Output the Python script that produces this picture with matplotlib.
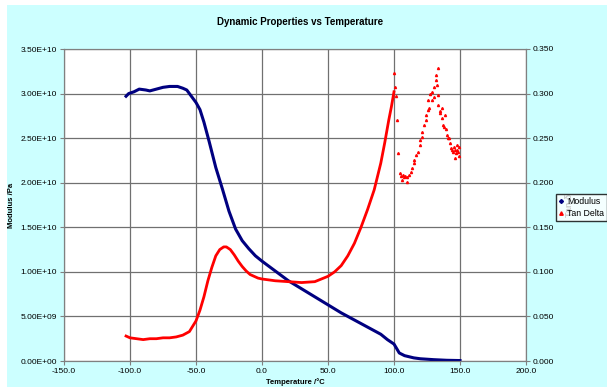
import matplotlib
matplotlib.use('Agg')
import matplotlib.pyplot as plt
from matplotlib.ticker import FuncFormatter, MultipleLocator
from matplotlib.lines import Line2D
from matplotlib.patches import Rectangle

plt.rcParams['font.family'] = ['Liberation Sans', 'DejaVu Sans']

# modulus (Pa), dense part
mod_T = [-103, -101, -97, -93, -88, -85, -80, -75, -70, -64, -60, -57, -54, -50, -47, -44,
         -40, -35, -30, -25, -20, -15, -10, -5, 0, 10, 20, 30, 40, 50, 60, 70, 80, 90,
         95, 100, 102, 104, 108, 115, 120, 130, 140, 150]
mod_E = [2.97, 3.00, 3.02, 3.05, 3.04, 3.03, 3.05, 3.07, 3.08, 3.08, 3.06, 3.04, 2.98, 2.90,
         2.82, 2.68, 2.46, 2.17, 1.93, 1.68, 1.48, 1.35, 1.26, 1.18, 1.12, 1.01, 0.90, 0.81,
         0.72, 0.63, 0.54, 0.46, 0.38, 0.30, 0.24, 0.19, 0.14, 0.09, 0.06, 0.035, 0.025,
         0.015, 0.008, 0.005]
mod_E = [v * 1e10 for v in mod_E]

# tan delta, smooth part
tan_T = [-103, -100, -95, -90, -85, -80, -75, -70, -65, -60, -55, -50, -47, -44, -41, -38,
         -35, -32, -29, -27, -24, -21, -18, -15, -12, -9, -6, -3, 0, 5, 10, 20, 30, 40, 45,
         50, 55, 60, 65, 70, 75, 80, 85, 90, 93, 96, 98, 100]
tan_d = [0.028, 0.026, 0.025, 0.024, 0.025, 0.025, 0.026, 0.026, 0.027, 0.029, 0.033, 0.045,
         0.057, 0.072, 0.090, 0.105, 0.118, 0.125, 0.128, 0.128, 0.125, 0.119, 0.112, 0.106,
         0.101, 0.097, 0.095, 0.093, 0.092, 0.091, 0.090, 0.089, 0.088, 0.089, 0.092, 0.095,
         0.100, 0.107, 0.118, 0.132, 0.150, 0.170, 0.192, 0.222, 0.245, 0.270, 0.285, 0.302]

# tan delta, scattered points above 100 C
tan_T2 = [100, 101, 101.5, 102, 103, 104.5, 105, 106, 106.5, 107.5, 108, 109.5, 110, 111,
          112.5, 114, 115, 115.5, 117, 118, 119.5, 120, 121, 121.5, 123, 124, 124.5, 125.5,
          126, 127, 126.5, 128.5, 129, 130, 130.5, 131.5, 132, 133, 132.5, 133.5, 133.5,
          134.5, 135, 136, 136.5, 137, 138, 139, 139.5, 140, 141, 142, 142.5, 143, 144, 145,
          145.5, 146, 147, 148, 148.5, 149, 146.5, 147.5, 149.5]
tan_d2 = [0.323, 0.307, 0.297, 0.270, 0.233, 0.211, 0.208, 0.203, 0.209, 0.206, 0.207, 0.201,
          0.206, 0.209, 0.212, 0.216, 0.222, 0.225, 0.231, 0.234, 0.242, 0.248, 0.251, 0.257,
          0.265, 0.270, 0.276, 0.282, 0.293, 0.300, 0.284, 0.293, 0.302, 0.307, 0.296, 0.315,
          0.321, 0.329, 0.310, 0.298, 0.287, 0.281, 0.278, 0.273, 0.284, 0.265, 0.262, 0.276,
          0.260, 0.254, 0.250, 0.250, 0.245, 0.239, 0.237, 0.235, 0.240, 0.237, 0.233, 0.237,
          0.235, 0.240, 0.228, 0.242, 0.230]

fig = plt.figure(figsize=(6.07, 3.87), dpi=100)
fig.patch.set_facecolor('white')
fig.patches.append(Rectangle((7 / 607, 0), 1, 1 - 5 / 387, transform=fig.transFigure,
                             facecolor='#ccffff', edgecolor='none', zorder=-10))

ax = fig.add_axes([64 / 607, 26 / 387, 462 / 607, 312 / 387])
ax2 = ax.twinx()

ax.plot(mod_T, mod_E, color='#000080', lw=2.2, zorder=3)
ax2.plot(tan_T, tan_d, color='#ff0000', lw=2.0)
ax2.plot(tan_T2, tan_d2, color='#ff0000', lw=0, marker='^', ms=1.5)

ax.set_xlim(-150, 200)
ax.set_ylim(0, 3.5e10)
ax2.set_ylim(0, 0.35)
ax.xaxis.set_major_locator(MultipleLocator(50))
ax.yaxis.set_major_locator(MultipleLocator(0.5e10))
ax2.yaxis.set_major_locator(MultipleLocator(0.05))

ax.xaxis.set_major_formatter(FuncFormatter(lambda v, p: '%.1f' % v))
ax.yaxis.set_major_formatter(FuncFormatter(lambda v, p: ('%.2E' % v)))
ax2.yaxis.set_major_formatter(FuncFormatter(lambda v, p: '%.3f' % v))

ax.grid(True, color='#707070', lw=0.9)
ax.set_axisbelow(True)
for a in (ax, ax2):
    for s in a.spines.values():
        s.set_color('#808080')
    a.tick_params(labelsize=6, length=3, color='#808080', pad=2)

ax.set_xlabel('Temperature /°C', fontsize=5.5, fontweight='bold', labelpad=2)
ax.set_ylabel('Modulus /Pa', fontsize=5.5, fontweight='bold', labelpad=4)
ax2.set_ylabel('Tan δ', fontsize=6.5, fontweight='bold', labelpad=8)
fig.text(0.495, 1 - 22 / 387, 'Dynamic Properties vs Temperature', ha='center', va='center',
         fontsize=7, fontweight='bold')

handles = [Line2D([], [], color='#000080', marker='D', ms=2, lw=0),
           Line2D([], [], color='#ff0000', marker='^', ms=2.5, lw=0)]
fig.legend(handles, ['Modulus', 'Tan Delta'], loc='upper left',
           bbox_to_anchor=(556 / 607, 1 - 194 / 387), fontsize=6.3, frameon=True,
           fancybox=False, edgecolor='black', handlelength=0.6, handletextpad=0.4,
           borderpad=0.3, labelspacing=0.4, borderaxespad=0)

fig.savefig('out.png', dpi=100)
